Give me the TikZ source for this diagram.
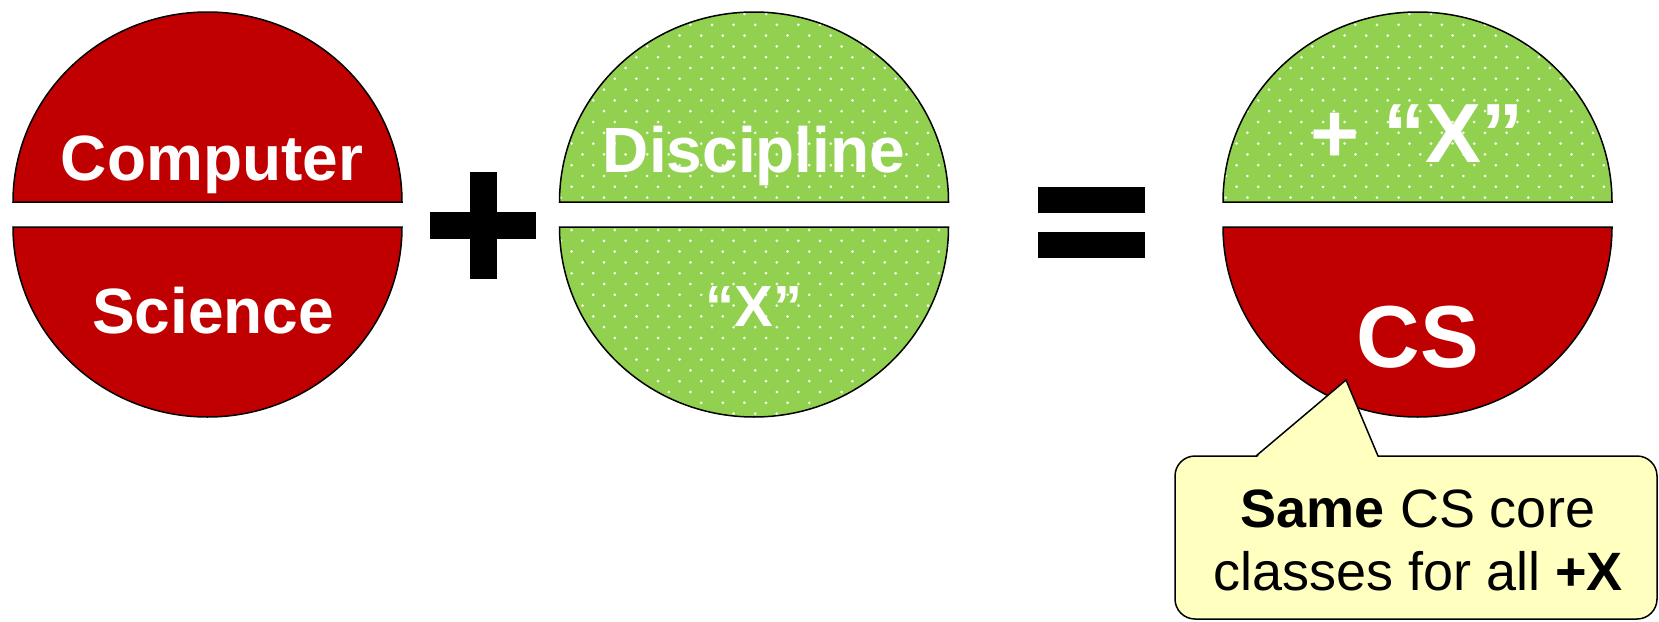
\documentclass[tikz,border=0pt]{standalone}
\usepackage{fontspec}
\setmainfont{Liberation Sans}
\definecolor{csred}{HTML}{C00000}
\definecolor{xgreen}{HTML}{92D050}
\definecolor{noteyellow}{HTML}{FFFFC0}
\newcommand\dotgrid[2]{%
  \foreach \r in {0,...,37}{\foreach \c in {0,...,#2}{%
    \fill[dotmark] ({#1+\c*21.6+mod(\r,2)*10.8},{-(14+\r*10.8)}) circle (1.5);}}}
\begin{document}
\begin{tikzpicture}[x=1pt,y=1pt,
  outline/.style={draw=black,line width=1.5pt},
  dotmark/.style={fill=white,fill opacity=0.9},
  tophalf/.style 2 args={insert path={(#1-#2,-202) arc[start angle=180,end angle=0,x radius=#2,y radius=190] -- cycle}},
  bothalf/.style 2 args={insert path={(#1-#2,-227) arc[start angle=180,end angle=360,x radius=#2,y radius=190] -- cycle}},
  lbl/.style={text=white,inner sep=0pt,anchor=base},
  note/.style={text=black,inner sep=0pt,anchor=base,font={\fontsize{54}{63}\selectfont}},
]
\useasboundingbox (0,0) rectangle (1659,-621);

% ---- circle 1: Computer / Science
\path[outline,fill=csred,tophalf={207.5}{194.5}];
\path[outline,fill=csred,bothalf={207.5}{194.5}];
\node[lbl,font={\fontsize{64}{76}\selectfont\bfseries}] (computer) at (212,-180.7) {Computer};
\node[lbl,font={\fontsize{64}{76}\selectfont\bfseries}] (science) at (213,-333) {Science};

% ---- plus sign
\fill (430,-211.7) rectangle (536,-239);
\fill (470,-171.7) rectangle (496.7,-279.3);

% ---- circle 2: Discipline / "X"
\path[fill=xgreen,tophalf={754}{194.5}];
\path[fill=xgreen,bothalf={754}{194.5}];
\begin{scope}
  \clip[tophalf={754}{194.5},bothalf={754}{194.5}];
  \dotgrid{550}{19}
\end{scope}
\path[outline,tophalf={754}{194.5}];
\path[outline,bothalf={754}{194.5}];
\node[lbl,font={\fontsize{64}{76}\selectfont\bfseries}] (discipline) at (754,-172.7) {Discipline};
\node[lbl,font={\fontsize{58}{70}\selectfont\bfseries}] (xdisc) at (754,-326.7) {“X”};

% ---- equals sign
\fill (1037.7,-187.3) rectangle (1145,-212.7);
\fill (1037.7,-232) rectangle (1145,-257.7);

% ---- circle 3: + "X" / CS
\path[fill=xgreen,tophalf={1417.5}{194.5}];
\begin{scope}
  \clip[tophalf={1417.5}{194.5}];
  \dotgrid{1215}{19}
\end{scope}
\path[outline,tophalf={1417.5}{194.5}];
\path[outline,fill=csred,bothalf={1417.5}{194.5}];
\node[lbl,font={\fontsize{84}{96}\selectfont\bfseries}] (plusx) at (1417,-162) {+ “X”};
\node[lbl,font={\fontsize{88}{100}\selectfont\bfseries}] (cs) at (1418,-367) {CS};

% ---- callout
\draw[outline,fill=noteyellow,rounded corners=20pt] (1175,-456) rectangle (1657,-619);
\fill[noteyellow] (1256,-458) -- (1346,-380) -- (1378,-458) -- cycle;
\draw[outline,line join=miter] (1256,-456) -- (1346,-380) -- (1378,-456);
\node[note] (line1) at (1418,-527) {\textbf{Same} CS core};
\node[note] (line2) at (1418,-590) {classes for all \textbf{+X}};
\end{tikzpicture}
\end{document}
